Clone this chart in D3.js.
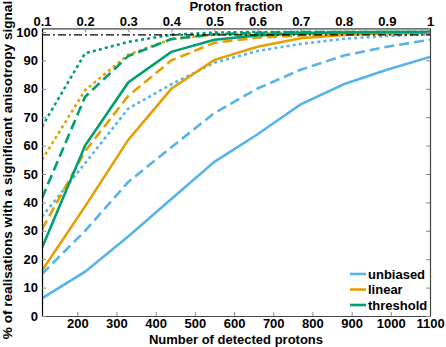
<!DOCTYPE html>
<html>
<head>
<meta charset="utf-8">
<script src="https://cdn.jsdelivr.net/npm/d3@7"></script>
<style>
  body { margin: 0; background: #fff; }
  svg text { font-family: "Liberation Sans", Arial, sans-serif; font-weight: bold; }
</style>
</head>
<body>
<script>
const w = 446;
const h = 347;
const m = {top: 28.3, right: 16, bottom: 31, left: 42};

// protons detected at each sampled proton fraction
const protons = [110, 220, 330, 440, 550, 660, 770, 880, 990, 1100];
const xTicks = [200, 300, 400, 500, 600, 700, 800, 900, 1000, 1100];
const fracTicks = [0.1, 0.2, 0.3, 0.4, 0.5, 0.6, 0.7, 0.8, 0.9, 1];
const yTicks = [0, 10, 20, 30, 40, 50, 60, 70, 80, 90, 100];

const unbiasedSolid  = [6.2, 15.6, 28, 41.2, 54.3, 64, 74.5, 81.6, 86.7, 91.2];
const unbiasedDashed = [14.8, 30, 47.2, 59.4, 71.5, 80.1, 86.7, 91.7, 94.8, 97.3];
const unbiasedDotted = [35, 53.8, 73, 81.6, 89.2, 93.3, 95.8, 97.6, 98.6, 99.2];
const linearSolid  = [16, 38.6, 62, 80, 90.2, 94.8, 97.8, 99, 99.6, 100];
const linearDashed = [30.5, 58, 77.5, 90, 96.2, 98, 98.8, 99.2, 99.5, 99.7];
const linearDotted = [55, 79.5, 92, 97.5, 99, 99.5, 99.8, 100, 100, 100];
const thresholdSolid  = [24, 60, 82.2, 93, 97.3, 98.8, 99.5, 99.8, 100, 100];
const thresholdDashed = [41.5, 77.2, 91.5, 97.5, 99.2, 99.7, 100, 100, 100, 100];
const thresholdDotted = [66.7, 92.5, 96.5, 99, 99.8, 100, 100, 100, 100, 100];
const refLevel = 99;

const legendNames = ['unbiased', 'linear', 'threshold'];
const colors = {unbiased: '#56B4E9', linear: '#E69F00', threshold: '#009E73'};
const dashes = {solid: null, dashed: '10,5', dotted: '3,3.2'};

const series = [
  {name: 'unbiased', style: 'solid', values: unbiasedSolid},
  {name: 'unbiased', style: 'dashed', values: unbiasedDashed},
  {name: 'unbiased', style: 'dotted', values: unbiasedDotted},
  {name: 'linear', style: 'solid', values: linearSolid},
  {name: 'linear', style: 'dashed', values: linearDashed},
  {name: 'linear', style: 'dotted', values: linearDotted},
  {name: 'threshold', style: 'solid', values: thresholdSolid},
  {name: 'threshold', style: 'dashed', values: thresholdDashed},
  {name: 'threshold', style: 'dotted', values: thresholdDotted}
];

const svg = d3.select('body').append('svg').attr('width', w).attr('height', h);

const x = d3.scaleLinear().domain([110, 1100]).range([m.left, w - m.right]);
const xf = d3.scaleLinear().domain([0.1, 1]).range([m.left, w - m.right]);
const y = d3.scaleLinear().domain([0, 101.3]).range([h - m.bottom, m.top]);

const plot = svg.append('g');
plot.append('clipPath').attr('id', 'clip').append('rect')
  .attr('x', m.left).attr('y', m.top - 2)
  .attr('width', w - m.left - m.right).attr('height', h - m.top - m.bottom + 2);

const line = d3.line().x((d, i) => x(protons[i])).y(d => y(d));

const lines = plot.append('g').attr('clip-path', 'url(#clip)');
lines.selectAll('path.series').data(series).enter().append('path')
  .attr('class', 'series')
  .attr('d', d => line(d.values))
  .attr('fill', 'none')
  .attr('stroke', d => colors[d.name])
  .attr('stroke-width', 2.6)
  .attr('stroke-dasharray', d => dashes[d.style]);

lines.append('line')
  .attr('x1', x(110)).attr('x2', x(1100))
  .attr('y1', y(refLevel)).attr('y2', y(refLevel))
  .attr('stroke', '#000').attr('stroke-width', 1.3)
  .attr('stroke-dasharray', '8,3,2,3');

// axes
const bottomAxis = d3.axisBottom(x).tickValues(xTicks).tickSizeInner(-4).tickSizeOuter(0).tickPadding(3)
  .tickFormat(d3.format('d'));
const topAxis = d3.axisTop(xf).tickValues(fracTicks).tickSizeInner(-4).tickSizeOuter(0).tickPadding(2)
  .tickFormat(d => d === 1 ? '1' : d3.format('.1f')(d));
const leftAxis = d3.axisLeft(y).tickValues(yTicks).tickSizeInner(-4).tickSizeOuter(0).tickPadding(4);
const rightAxis = d3.axisRight(y).tickValues(yTicks).tickSizeInner(-4).tickSizeOuter(0).tickFormat('');

const gb = svg.append('g').attr('transform', 'translate(0,' + (h - m.bottom) + ')').call(bottomAxis);
const gt = svg.append('g').attr('transform', 'translate(0,' + m.top + ')').call(topAxis);
const gl = svg.append('g').attr('transform', 'translate(' + m.left + ',0)').call(leftAxis);
const gr = svg.append('g').attr('transform', 'translate(' + (w - m.right) + ',0)').call(rightAxis);

[gb, gt, gl, gr].forEach(g => {
  g.select('.domain').attr('stroke', '#444').attr('stroke-width', 1.2);
  g.selectAll('.tick line').attr('stroke', '#888');
  g.selectAll('.tick text').attr('fill', '#000').style('font-size', '13px')
    .style('font-family', '"Liberation Sans", Arial, sans-serif').style('font-weight', 'bold');
});
gl.select('.domain').attr('stroke', '#000');

// axis titles
svg.append('text')
  .attr('x', 236).attr('y', 344)
  .attr('text-anchor', 'middle').style('font-size', '13px')
  .text('Number of detected protons');

svg.append('text')
  .attr('x', 236).attr('y', 10.5)
  .attr('text-anchor', 'middle').style('font-size', '13px')
  .text('Proton fraction');

svg.append('text')
  .attr('transform', 'translate(12,' + 170 + ') rotate(-90)')
  .attr('text-anchor', 'middle').style('font-size', '13.6px')
  .text('% of realisations with a significant anisotropy signal');

// legend
const legend = svg.append('g').attr('transform', 'translate(350,274)');
const item = legend.selectAll('g').data(legendNames).enter().append('g')
  .attr('transform', (d, i) => 'translate(0,' + i * 15.5 + ')');
item.append('line').attr('x1', 0).attr('x2', 16).attr('y1', 0).attr('y2', 0)
  .attr('stroke', d => colors[d]).attr('stroke-width', 2.6);
item.append('text').attr('x', 18).attr('y', 4.5).style('font-size', '13px').text(d => d);
</script>
</body>
</html>
